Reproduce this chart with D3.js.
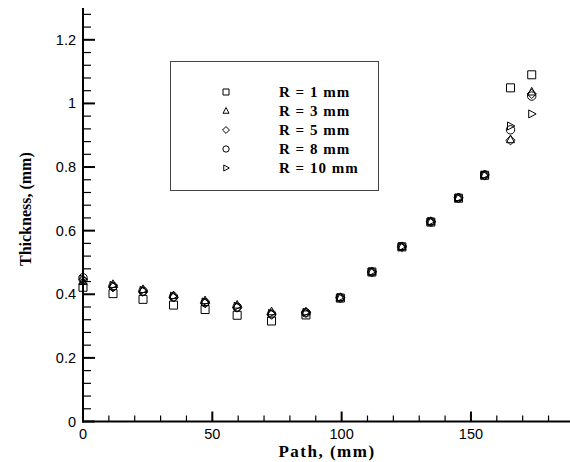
<!DOCTYPE html>
<html>
<head>
<meta charset="utf-8">
<script src="https://cdn.jsdelivr.net/npm/d3@7"></script>
<style>
  body { margin: 0; background: #fff; }
  svg { display: block; }
  .tick-label { font-family: "Liberation Sans", Arial, sans-serif; font-size: 14.5px; fill: #000; }
  .title { font-family: "Liberation Serif", "Times New Roman", serif; font-weight: bold; fill: #000; }
  .legend-text { font-family: "Liberation Serif", "Times New Roman", serif; font-weight: bold; font-size: 15px; letter-spacing: 1px; fill: #000; }
</style>
</head>
<body>
<svg id="chart"></svg>
<script>
// Path positions (mm)
const path = [0, 11.6, 23.2, 35, 47.2, 59.6, 72.9, 86.2, 99.5, 111.7, 123.3, 134.5, 145.2, 155.3, 165.3, 173.5];

// Thickness (mm) per tool radius
const r1  = [0.422, 0.402, 0.384, 0.366, 0.352, 0.334, 0.316, 0.335, 0.388, 0.470, 0.549, 0.627, 0.702, 0.774, 1.049, 1.090];
const r3  = [0.440, 0.431, 0.415, 0.396, 0.380, 0.366, 0.345, 0.345, 0.390, 0.471, 0.550, 0.629, 0.704, 0.776, 0.886, 1.036];
const r5  = [0.445, 0.422, 0.408, 0.390, 0.372, 0.358, 0.336, 0.342, 0.389, 0.470, 0.549, 0.628, 0.703, 0.775, 0.884, 1.030];
const r8  = [0.452, 0.425, 0.410, 0.392, 0.374, 0.360, 0.338, 0.342, 0.389, 0.470, 0.550, 0.628, 0.703, 0.775, 0.917, 1.023];
const r10 = [0.448, 0.428, 0.412, 0.394, 0.376, 0.362, 0.340, 0.343, 0.390, 0.471, 0.550, 0.629, 0.703, 0.775, 0.929, 0.967];

const seriesNames = ['R = 1 mm', 'R = 3 mm', 'R = 5 mm', 'R = 8 mm', 'R = 10 mm'];
const seriesValues = [r1, r3, r5, r8, r10];
const seriesShapes = ['square', 'triangle', 'diamond', 'circle', 'tri-right'];

const xTicks = [0, 50, 100, 150];
const yTicks = [0, 0.2, 0.4, 0.6, 0.8, 1, 1.2];

const width = 570, height = 462;
const svg = d3.select('#chart').attr('width', width).attr('height', height);

const x = d3.scaleLinear().domain([0, 188.3]).range([83, 570]);
const y = d3.scaleLinear().domain([0, 1.3]).range([421.5, 8]);

// Marker path generator (centered at 0,0)
function shapePath(shape, s) {
    const h = s / 2;
    switch (shape) {
        case 'square': return `M${-h},${-h}H${h}V${h}H${-h}Z`;
        case 'triangle': return `M0,${-h * 1.15}L${h},${h * 0.75}L${-h},${h * 0.75}Z`;
        case 'diamond': return `M0,${-h * 1.15}L${h * 1.15},0L0,${h * 1.15}L${-h * 1.15},0Z`;
        case 'tri-right': return `M${h * 1.1},0L${-h * 0.75},${-h}L${-h * 0.75},${h}Z`;
        case 'circle': {
            const r = h * 1.05;
            return `M${r},0A${r},${r} 0 1,1 ${-r},0A${r},${r} 0 1,1 ${r},0Z`;
        }
    }
}

// Axes lines
const axisG = svg.append('g').attr('stroke', '#000').attr('fill', 'none');
axisG.append('line')
    .attr('x1', x(0)).attr('x2', x(0))
    .attr('y1', y(1.3)).attr('y2', y(0) + 1)
    .attr('stroke-width', 2);
axisG.append('line')
    .attr('x1', x(0) - 1).attr('x2', width)
    .attr('y1', y(0)).attr('y2', y(0))
    .attr('stroke-width', 2);

// Y ticks: major every 0.2, minor every 0.04
d3.range(0, 66).map(i => i * 0.02).filter((v, i) => i % 2 === 0).forEach(v => {
    const major = yTicks.some(t => Math.abs(t - v) < 1e-6);
    axisG.append('line')
        .attr('x1', x(0)).attr('x2', x(0) + (major ? 12 : 8))
        .attr('y1', y(v)).attr('y2', y(v))
        .attr('stroke-width', major ? 2 : 1.2);
});

// X ticks: major every 50, minor every 10
d3.range(0, 190, 10).forEach(v => {
    const major = xTicks.includes(v);
    axisG.append('line')
        .attr('x1', x(v)).attr('x2', x(v))
        .attr('y1', y(0)).attr('y2', y(0) - (major ? 10 : 6))
        .attr('stroke-width', major ? 2 : 1.2);
});

// Tick labels
svg.selectAll('.ylab').data(yTicks).enter().append('text')
    .attr('class', 'tick-label')
    .attr('x', 76)
    .attr('y', d => y(d) + 5)
    .attr('text-anchor', 'end')
    .text(d => d3.format('~g')(d));

svg.selectAll('.xlab').data(xTicks).enter().append('text')
    .attr('class', 'tick-label')
    .attr('x', d => x(d))
    .attr('y', 439)
    .attr('text-anchor', 'middle')
    .text(d => d);

// Axis titles
svg.append('text')
    .attr('class', 'title')
    .attr('x', 327).attr('y', 457)
    .attr('text-anchor', 'middle')
    .style('font-size', '17px')
    .style('letter-spacing', '1.5px')
    .text('Path, (mm)');

svg.append('text')
    .attr('class', 'title')
    .attr('transform', 'translate(31,266) rotate(-90)')
    .attr('text-anchor', 'start')
    .style('font-size', '16px')
    .text('Thickness, (mm)');

// Data markers
seriesValues.forEach((vals, si) => {
    svg.append('g')
        .selectAll('path')
        .data(vals.map((v, i) => ({ x: path[i], y: v })))
        .enter()
        .append('path')
        .attr('d', shapePath(seriesShapes[si], 8))
        .attr('transform', d => `translate(${x(d.x)},${y(d.y)})`)
        .attr('fill', 'none')
        .attr('stroke', '#000')
        .attr('stroke-width', 1);
});

// Legend
const legend = svg.append('g');
legend.append('rect')
    .attr('x', 170.5).attr('y', 61.5)
    .attr('width', 208).attr('height', 129)
    .attr('fill', '#fff')
    .attr('stroke', '#444')
    .attr('stroke-width', 1);

seriesNames.forEach((name, i) => {
    const cy = 92 + i * 19;
    legend.append('path')
        .attr('d', shapePath(seriesShapes[i], 6))
        .attr('transform', `translate(226,${cy})`)
        .attr('fill', 'none')
        .attr('stroke', '#000')
        .attr('stroke-width', 1);
    legend.append('text')
        .attr('class', 'legend-text')
        .attr('x', 279).attr('y', cy + 5)
        .text(name);
});
</script>
</body>
</html>
